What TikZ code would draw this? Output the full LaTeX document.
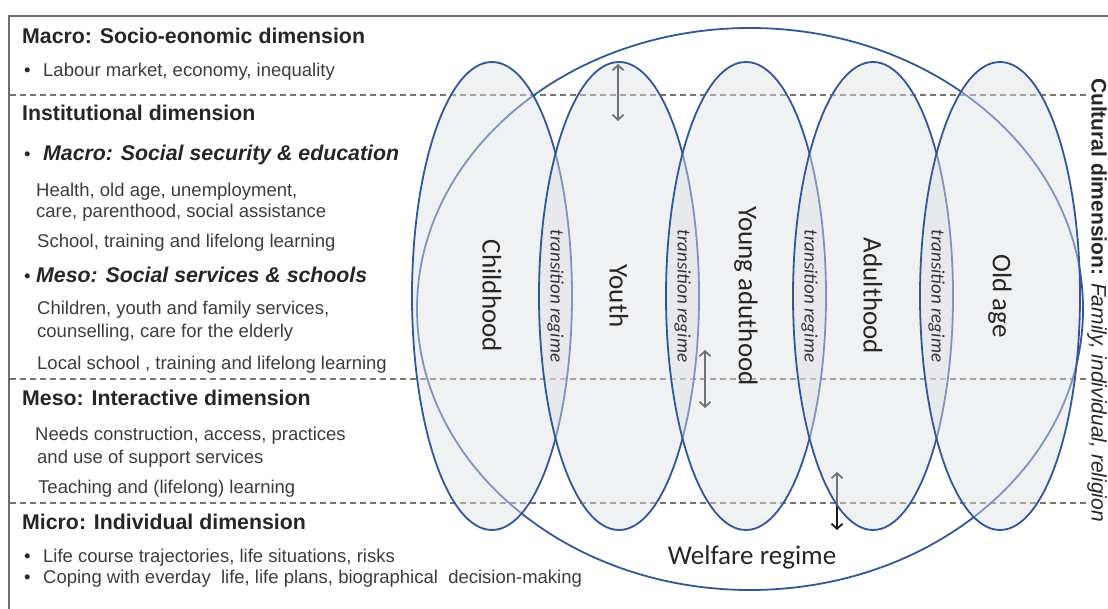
\documentclass[tikz,border=0pt]{standalone}
\usepackage{fontspec}
\setmainfont{Liberation Sans}
\newfontfamily\stagefont{Carlito}
\usetikzlibrary{arrows.meta, positioning, shapes.geometric, calc, backgrounds}
\definecolor{StageBlue}{RGB}{50, 86, 156}
\definecolor{StageFill}{RGB}{222, 223, 229}
\definecolor{RuleColor}{RGB}{125, 115, 110}
\definecolor{FrameColor}{RGB}{110, 110, 110}
\definecolor{HeadColor}{RGB}{38, 38, 38}
\definecolor{BodyColor}{RGB}{60, 60, 60}
\definecolor{ShiftColor}{RGB}{25, 25, 25}

\begin{document}
\begin{tikzpicture}[
    x=1pt, y=-1pt,
    heading/.style={anchor=base west, inner sep=0pt, text=HeadColor,
        font=\fontsize{21.3}{25}\selectfont\bfseries},
    subheading/.style={heading, font=\fontsize{21.3}{25}\selectfont\bfseries\itshape},
    body/.style={anchor=base west, inner sep=0pt, text=BodyColor,
        font=\fontsize{18.5}{22}\selectfont},
    dot/.style={body, text=HeadColor},
    stage/.style={
        ellipse,
        draw=StageBlue,
        line width=1.8pt,
        fill=StageFill,
        fill opacity=0.45,
        text opacity=1,
        minimum width=468pt,
        minimum height=160pt,
        inner sep=0pt,
        rotate=-90,
        text=black!85,
        font=\stagefont\fontsize{27}{30}\selectfont
    },
    regime/.style={ellipse, draw=StageBlue, line width=1.8pt, inner sep=0pt},
    transition/.style={rotate=-90, inner sep=0pt, text=black!80,
        font=\stagefont\itshape\fontsize{19}{22}\selectfont},
    rule/.style={dash pattern=on 6pt off 4pt, RuleColor, line width=1.4pt},
    levelarrow/.style={{Straight Barb[length=5pt, width=11pt]}-{Straight Barb[length=5pt, width=11pt]},
        ShiftColor, line width=1.8pt}
]
\useasboundingbox (0,0) rectangle (1108,609);

% Frame
\draw[FrameColor, line width=2.5pt] (9,609) -- (9,16) -- (1108,16);

% Life stages
\node[stage] (childhood) at (492,296) {Childhood};
\node[stage] (youth) at (619,296) {Youth};
\node[stage] (young_adulthood) at (746,296) {Young aduthood};
\node[stage] (adulthood) at (873,296) {Adulthood};
\node[stage] (old_age) at (1000,296) {Old age};

% Transition regimes between neighbouring stages
\node[transition] (trans_1) at ($(childhood)!0.5!(youth)$) {transition regime};
\node[transition] (trans_2) at ($(youth)!0.5!(young_adulthood)$) {transition regime};
\node[transition] (trans_3) at ($(young_adulthood)!0.5!(adulthood)$) {transition regime};
\node[transition] (trans_4) at ($(adulthood)!0.5!(old_age)$) {transition regime};

% Welfare regime
\node[font=\stagefont\fontsize{27}{30}\selectfont, text=black!85] (welfare_label) at (752,557) {Welfare regime};

% Cultural dimension
\node[rotate=-90, inner sep=0pt, text=HeadColor, font=\fontsize{21}{24}\selectfont] (cultural) at (1097,300)
    {\textbf{Cultural dimension:} \textit{Family, individual, religion}};

\begin{pgfonlayer}{background}
    % Dimension boundaries
    \coordinate (rule_1w) at (10,95);   \coordinate (rule_1e) at (1086,95);
    \coordinate (rule_2w) at (10,379);  \coordinate (rule_2e) at (1086,379);
    \coordinate (rule_3w) at (10,503);  \coordinate (rule_3e) at (1086,503);
    \draw[rule] (rule_1w) -- (rule_1e);
    \draw[rule] (rule_2w) -- (rule_2e);
    \draw[rule] (rule_3w) -- (rule_3e);

    % Shifts between levels
    \coordinate (shift_1a) at (618,64);  \coordinate (shift_1b) at (618,121);
    \coordinate (shift_2a) at (705,350); \coordinate (shift_2b) at (705,408);
    \coordinate (shift_3a) at (837,472); \coordinate (shift_3b) at (837,530);
    \draw[levelarrow] (shift_1a) -- (shift_1b);
    \draw[levelarrow] (shift_2a) -- (shift_2b);
    \draw[levelarrow] (shift_3a) -- (shift_3b);

    % Welfare regime boundary
    \node[regime, minimum width=666pt, minimum height=562pt] (welfare) at (750,309) {};
\end{pgfonlayer}

% Macro level
\node[heading] (macro) at (22,44) {Macro: Socio-eonomic dimension};
\node[dot] (macro_dot) at (24,77) {•};
\node[body] (macro_1) at (43,77) {Labour market, economy, inequality};

% Institutional level
\node[heading] (institutional) at (22,121) {Institutional dimension};
\node[dot] (inst_dot_1) at (24,161) {•};
\node[subheading] (inst_macro) at (43,161) {Macro: Social security \& education};
\node[body] (inst_macro_1) at (36,197) {Health, old age, unemployment,};
\node[body] (inst_macro_2) at (36,218) {care, parenthood, social assistance};
\node[body] (inst_macro_3) at (37,248) {School, training and lifelong learning};
\node[dot] (inst_dot_2) at (24,283) {•};
\node[subheading] (inst_meso) at (36,283) {Meso: Social services \& schools};
\node[body] (inst_meso_1) at (37,315) {Children, youth and family services,};
\node[body] (inst_meso_2) at (37,338) {counselling, care for the elderly};
\node[body] (inst_meso_3) at (37,370) {Local school , training and lifelong learning};

% Meso level
\node[heading] (meso) at (22,405) {Meso: Interactive dimension};
\node[body] (meso_1) at (35,440) {Needs construction, access, practices};
\node[body] (meso_2) at (37,463) {and use of support services};
\node[body] (meso_3) at (38,493) {Teaching and (lifelong) learning};

% Micro level
\node[heading] (micro) at (22,529) {Micro: Individual dimension};
\node[dot] (micro_dot_1) at (24,562) {•};
\node[body] (micro_1) at (43,562) {Life course trajectories, life situations, risks};
\node[dot] (micro_dot_2) at (24,583) {•};
\node[body] (micro_2) at (43,583) {Coping with everday\ \ life, life plans, biographical\ \ decision-making};

\end{tikzpicture}
\end{document}
